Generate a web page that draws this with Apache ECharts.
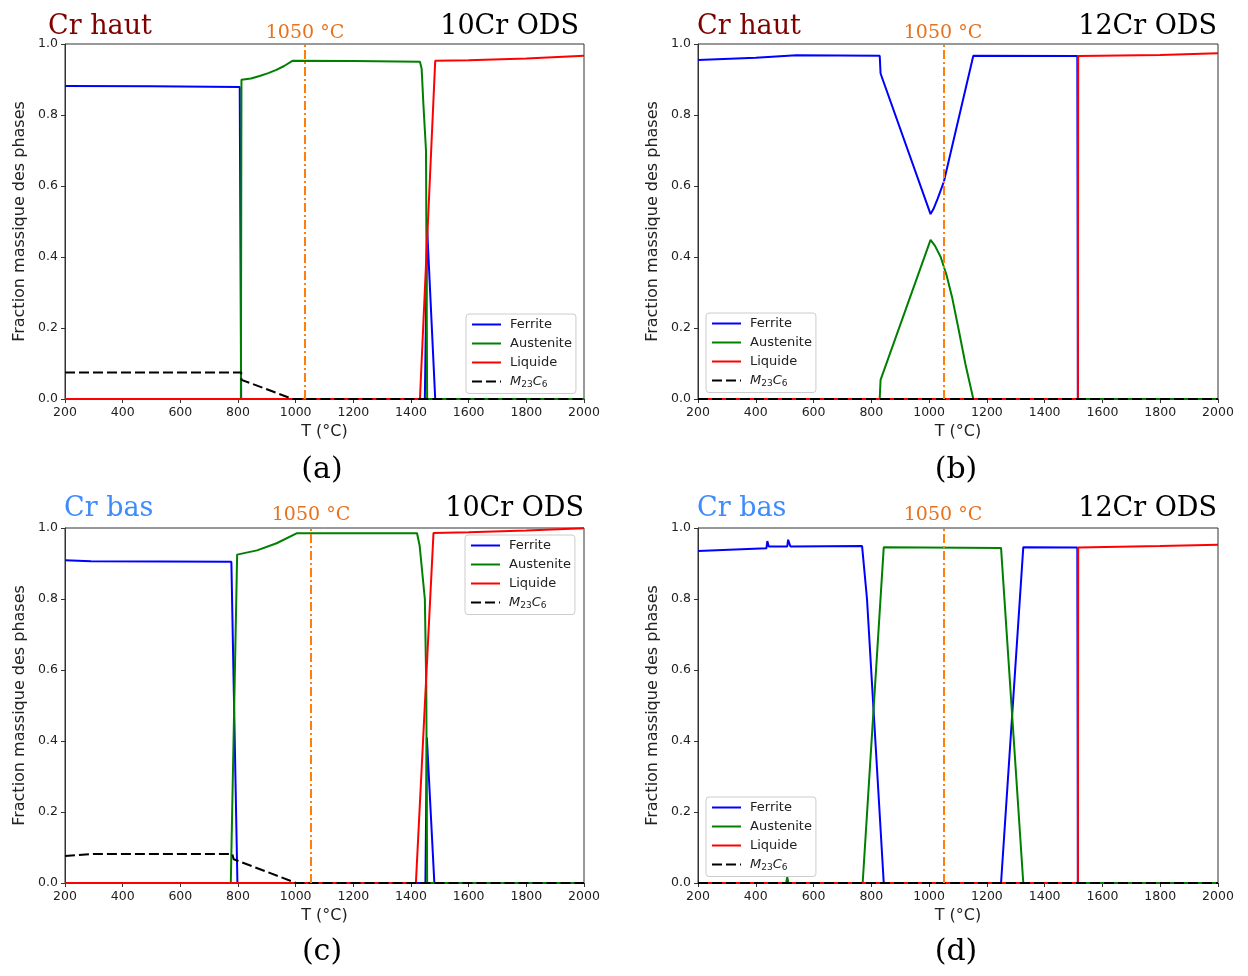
<!DOCTYPE html>
<html><head><meta charset="utf-8">
<script src="https://cdn.jsdelivr.net/npm/echarts@6/dist/echarts.min.js"></script>
<style>html,body{margin:0;padding:0;background:#fff}#c{width:1248px;height:976px}</style>
</head><body><div id="c"></div>
<script>
// ---------- data (T in °C, mass fraction) ----------
const ferriteA   = [[200,0.882],[500,0.881],[806,0.879],[811,0],[1448,0],[1456,0.48],[1484,0],[2000,0]];
const austeniteA = [[200,0],[810,0],[812,0.899],[845,0.903],[875,0.910],[905,0.918],[933,0.927],[960,0.938],[990,0.953],[1200,0.952],[1431,0.950],[1437,0.93],[1443,0.83],[1452,0.70],[1456,0],[2000,0]];
const liquideA   = [[200,0],[1431,0],[1484,0.953],[1600,0.954],[1800,0.959],[2000,0.967]];
const m23c6A     = [[200,0.075],[811,0.075],[812,0.054],[990,0],[2000,0]];

const ferriteB   = [[200,0.955],[400,0.961],[540,0.968],[829,0.967],[832,0.917],[1005,0.521],[1015,0.535],[1030,0.565],[1051,0.612],[1153,0.967],[1513,0.966],[1515,0],[2000,0]];
const austeniteB = [[200,0],[829,0],[832,0.054],[1005,0.448],[1020,0.432],[1040,0.400],[1060,0.350],[1080,0.285],[1100,0.205],[1126,0.097],[1153,0],[2000,0]];
const liquideB   = [[200,0],[1515,0],[1516,0.966],[1800,0.969],[2000,0.974]];
const m23c6B     = [[200,0],[2000,0]];

const ferriteC   = [[200,0.909],[290,0.906],[777,0.905],[798,0],[1450,0],[1455,0.41],[1481,0],[2000,0]];
const austeniteC = [[200,0],[775,0],[797,0.925],[866,0.937],[934,0.957],[1003,0.985],[1421,0.985],[1430,0.95],[1448,0.80],[1453,0.55],[1456,0],[2000,0]];
const liquideC   = [[200,0],[1417,0],[1478,0.986],[1600,0.988],[1800,0.993],[2000,0.999]];
const m23c6C     = [[200,0.076],[300,0.082],[780,0.082],[785,0.067],[1002,0],[2000,0]];

const ferriteD   = [[200,0.935],[437,0.943],[440,0.963],[445,0.948],[509,0.948],[512,0.967],[520,0.948],[768,0.949],[785,0.80],[843,0],[1249,0],[1326,0.946],[1513,0.945],[1515,0],[2000,0]];
const austeniteD = [[200,0],[505,0],[509,0.016],[513,0],[770,0],[843,0.946],[1249,0.944],[1326,0],[2000,0]];
const liquideD   = [[200,0],[1515,0],[1516,0.945],[1800,0.949],[2000,0.953]];
const m23c6D     = [[200,0],[2000,0]];

const refLineT   = [1033, 1050, 1052, 1050];   // "1050 °C" dash-dot line as drawn
const phaseNames = ['Ferrite','Austenite','Liquide','M23C6'];
const panelTags  = ['(a)','(b)','(c)','(d)'];
const crLabels   = ['Cr haut','Cr haut','Cr bas','Cr bas'];
const alloyNames = ['10Cr ODS','12Cr ODS','10Cr ODS','12Cr ODS'];
const refLabel   = '1050 °C';
const yAxisName  = 'Fraction massique des phases';
const xAxisName  = 'T (°C)';

const panels = [
  [ferriteA, austeniteA, liquideA, m23c6A],
  [ferriteB, austeniteB, liquideB, m23c6B],
  [ferriteC, austeniteC, liquideC, m23c6C],
  [ferriteD, austeniteD, liquideD, m23c6D]
];

// ---------- layout / style ----------
const colors = ['#0000ff','#008000','#ff0000','#000000'];
const grids = [
  {left:65,  top:44,  width:519, height:355},
  {left:698, top:44,  width:520, height:355},
  {left:65,  top:528, width:519, height:355},
  {left:698, top:528, width:520, height:355}
];
const legendPos = [
  {left:466, top:314},
  {left:706, top:313},
  {left:465, top:535},
  {left:706, top:797}
];
const textPos = [
  {crX:48,  alloyX:579,  refX:305, tagX:322, baseY:0},
  {crX:697, alloyX:1217, refX:943, tagX:956, baseY:0},
  {crX:64,  alloyX:584,  refX:311, tagX:322, baseY:482},
  {crX:697, alloyX:1217, refX:943, tagX:956, baseY:482}
];
const crColors = ['#800000','#800000','#3d8bfd','#3d8bfd'];
const sans = '"DejaVu Sans", sans-serif';
const serif = '"DejaVu Serif", serif';

const option = {
  animation:false,
  backgroundColor:'#fff',
  grid: grids.map(g => Object.assign({show:true, borderColor:'#333', borderWidth:1, backgroundColor:'transparent'}, g)),
  xAxis: grids.map((g,i) => ({
    type:'value', gridIndex:i, min:200, max:2000, interval:200,
    name:xAxisName, nameLocation:'middle', nameGap:25,
    nameTextStyle:{fontFamily:sans, fontSize:16, color:'#222'},
    axisLine:{show:true, onZero:false, lineStyle:{color:'#333', width:1}},
    axisTick:{show:true, inside:false, length:4, lineStyle:{color:'#333'}},
    axisLabel:{fontFamily:sans, fontSize:12.5, color:'#222', margin:7, formatter:v => String(v)},
    splitLine:{show:false}
  })),
  yAxis: grids.map((g,i) => ({
    type:'value', gridIndex:i, min:0, max:1, interval:0.2,
    name:yAxisName, nameLocation:'middle', nameGap:37, nameRotate:90,
    nameTextStyle:{fontFamily:sans, fontSize:16, color:'#222'},
    axisLine:{show:true, onZero:false, lineStyle:{color:'#333', width:1}},
    axisTick:{show:true, inside:false, length:4, lineStyle:{color:'#333'}},
    axisLabel:{fontFamily:sans, fontSize:12.5, color:'#222', margin:7, formatter:v => v.toFixed(1)},
    splitLine:{show:false}
  })),
  legend: legendPos.map(p => ({
    left:p.left, top:p.top, orient:'vertical',
    data:phaseNames, itemWidth:29, itemHeight:14, itemGap:6,
    padding:[4,4,4,5],
    borderColor:'#ccc', borderWidth:1, borderRadius:3,
    backgroundColor:'rgba(255,255,255,0.85)',
    selectedMode:false,
    itemStyle:{opacity:0},
    formatter: n => n === 'M23C6' ? '{i|M}{s|23}{i|C}{s|6}' : n,
    textStyle:{fontFamily:sans, fontSize:13, color:'#222', padding:[0,0,0,4],
      rich:{
        i:{fontFamily:sans, fontSize:13, fontStyle:'italic', color:'#222'},
        s:{fontFamily:sans, fontSize:9, color:'#222', padding:[7,0,0,0]}
      }}
  })),
  series: [],
  graphic: []
};

panels.forEach((data, p) => {
  data.forEach((arr, k) => {
    const s = {
      type:'line', name:phaseNames[k], xAxisIndex:p, yAxisIndex:p,
      data:arr, symbol:'none', showSymbol:false, clip:true,
      lineStyle:{color:colors[k], width:2, type: k === 3 ? [10,4] : 'solid'},
      itemStyle:{color:colors[k]}
    };
    if (k === 3) {
      s.markLine = {
        silent:true, symbol:['none','none'], label:{show:false},
        lineStyle:{color:'#ff7f0e', width:2, type:[9,3,2,3]},
        data:[{xAxis:refLineT[p]}]
      };
    }
    option.series.push(s);
  });
  const t = textPos[p];
  option.graphic.push(
    {type:'text', style:{text:crLabels[p], x:t.crX, y:t.baseY+27, font:'27px '+serif, fill:crColors[p], align:'left', verticalAlign:'middle', textAlign:'left', textVerticalAlign:'middle'}},
    {type:'text', style:{text:alloyNames[p], x:t.alloyX, y:t.baseY+27, font:'27px '+serif, fill:'#000', align:'right', verticalAlign:'middle', textAlign:'right', textVerticalAlign:'middle'}},
    {type:'text', style:{text:refLabel, x:t.refX, y:t.baseY+33.5, font:'19px '+serif, fill:'#e8711c', align:'center', verticalAlign:'middle', textAlign:'center', textVerticalAlign:'middle'}},
    {type:'text', style:{text:panelTags[p], x:t.tagX, y:t.baseY+470, font:'30px '+serif, fill:'#000', align:'center', verticalAlign:'middle', textAlign:'center', textVerticalAlign:'middle'}}
  );
});

const chart = echarts.init(document.getElementById('c'), null, {renderer:'canvas'});
chart.setOption(option);
</script>
</body></html>
